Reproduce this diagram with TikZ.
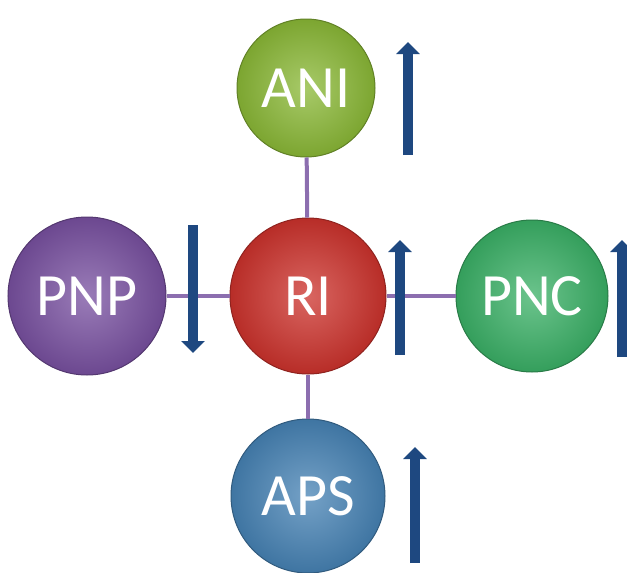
\documentclass[tikz,border=0pt]{standalone}
\usepackage{fontspec}
\setmainfont{Carlito}
\usepackage{tikz}
\usetikzlibrary{arrows.meta}

\definecolor{aniGreen}{RGB}{138,184,54}
\definecolor{riRed}{RGB}{204,50,44}
\definecolor{pnpViolet}{RGB}{120,80,160}
\definecolor{pncGreen}{RGB}{58,176,102}
\definecolor{apsBlue}{RGB}{70,130,180}
\definecolor{linkViolet}{RGB}{140,110,175}
\definecolor{trendBlue}{RGB}{30,72,128}

\tikzset{
  bubble/.style={circle, inner sep=0pt, draw=#1!70!black, line width=1pt,
    inner color=#1!75!white, outer color=#1!90!black, text=white,
    font=\fontsize{60}{60}\selectfont},
  link/.style={line width=4pt, linkViolet},
  trend/.style={line width=10pt, trendBlue, -{Triangle[width=23pt,length=12pt]}}
}

\begin{document}
\begin{tikzpicture}[x=1pt, y=-1pt]
  \clip (0,0) rectangle (627,573);

  % Circles
  \node[bubble=riRed, minimum size=156pt] (RI) at (308,296) {RI};
  \node[bubble=aniGreen, minimum size=138pt] (ANI) at (306,88) {ANI};
  \node[bubble=pnpViolet, minimum size=158pt] (PNP) at (87,296) {PNP};
  \node[bubble=pncGreen, minimum size=152pt] (PNC) at (532,296) {PNC};
  \node[bubble=apsBlue, minimum size=154pt] (APS) at (308,496) {APS};

  % Links
  \draw[link] (ANI) -- (RI);
  \draw[link] (RI) -- (APS);
  \draw[link] (PNP) -- (RI);
  \draw[link] (RI) -- (PNC);

  % Up and down trends
  \coordinate (aniLow) at (408,155);
  \coordinate (aniHigh) at (408,42);
  \coordinate (pnpHigh) at (193,225);
  \coordinate (pnpLow) at (193,353);
  \coordinate (riLow) at (400,355);
  \coordinate (riHigh) at (400,240);
  \coordinate (pncLow) at (622,357);
  \coordinate (pncHigh) at (622,240);
  \coordinate (apsLow) at (415,563);
  \coordinate (apsHigh) at (415,447);
  \draw[trend] (aniLow) -- (aniHigh);
  \draw[trend] (pnpHigh) -- (pnpLow);
  \draw[trend] (riLow) -- (riHigh);
  \draw[trend] (pncLow) -- (pncHigh);
  \draw[trend] (apsLow) -- (apsHigh);
\end{tikzpicture}
\end{document}
